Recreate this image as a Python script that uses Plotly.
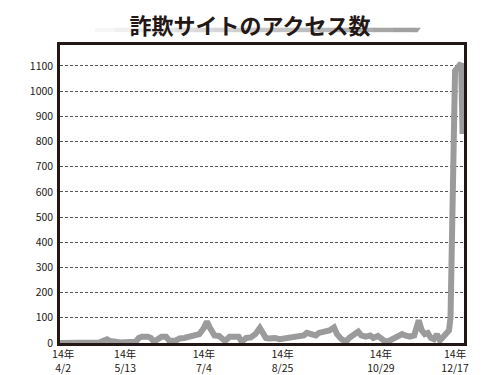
import plotly.graph_objects as go

# --- data ---
dates = [
    "2014-03-31", "2014-04-03", "2014-04-07", "2014-04-10", "2014-04-13", "2014-04-16",
    "2014-04-20", "2014-04-23", "2014-04-26", "2014-04-29", "2014-05-01", "2014-05-03",
    "2014-05-06", "2014-05-10", "2014-05-13", "2014-05-16", "2014-05-20", "2014-05-22",
    "2014-05-24", "2014-05-28", "2014-05-30", "2014-06-01", "2014-06-03", "2014-06-06",
    "2014-06-09", "2014-06-11", "2014-06-15", "2014-06-18", "2014-06-21", "2014-06-24",
    "2014-06-28", "2014-07-01", "2014-07-04", "2014-07-06", "2014-07-08", "2014-07-11",
    "2014-07-14", "2014-07-18", "2014-07-21", "2014-07-24", "2014-07-27", "2014-07-29",
    "2014-08-01", "2014-08-04", "2014-08-07", "2014-08-10", "2014-08-12", "2014-08-14",
    "2014-08-16", "2014-08-20", "2014-08-23", "2014-08-26", "2014-08-29", "2014-09-02",
    "2014-09-05", "2014-09-08", "2014-09-10", "2014-09-13", "2014-09-16", "2014-09-18",
    "2014-09-22", "2014-09-25", "2014-09-28", "2014-09-30", "2014-10-03", "2014-10-06",
    "2014-10-08", "2014-10-12", "2014-10-14", "2014-10-16", "2014-10-19", "2014-10-22",
    "2014-10-24", "2014-10-27", "2014-10-30", "2014-11-01", "2014-11-04", "2014-11-07",
    "2014-11-09", "2014-11-12", "2014-11-14", "2014-11-17", "2014-11-20", "2014-11-22",
    "2014-11-23", "2014-11-25", "2014-11-27", "2014-11-29", "2014-12-01", "2014-12-03",
    "2014-12-05", "2014-12-07", "2014-12-09", "2014-12-11", "2014-12-13", "2014-12-14",
    "2014-12-17", "2014-12-19", "2014-12-21", "2014-12-22",
]
access = [
    0, 0, 0, 0, 0, 0,
    0, 0, 2, 10, 15, 8,
    3, 2, 3, 2, 5, 20,
    25, 25, 20, 5, 15, 25,
    25, 10, 8, 18, 20, 25,
    28, 35, 60, 85, 60, 30,
    28, 8, 25, 28, 25, 5,
    20, 22, 35, 60, 40, 20,
    18, 20, 15, 18, 15, 20,
    22, 30, 40, 35, 30, 40,
    45, 50, 62, 35, 15, 5,
    20, 40, 45, 30, 25, 30,
    20, 28, 15, 5, 10, 20,
    25, 35, 30, 25, 30, 60,
    90, 50, 35, 40, 20, 15,
    35, 10, 25, 40, 50, 100,
    1080, 1095, 1110, 830,
]

tick_dates = ["2014-04-02", "2014-05-13", "2014-07-04", "2014-08-25", "2014-10-29", "2014-12-17"]
tick_labels = ["14年<br>4/2", "14年<br>5/13", "14年<br>7/4", "14年<br>8/25", "14年<br>10/29", "14年<br>12/17"]
y_ticks = list(range(0, 1101, 100))

title_text = "詐欺サイトのアクセス数"

fig = go.Figure()
fig.add_trace(go.Scatter(
    x=dates, y=access, mode="lines",
    line=dict(color="#9b9b9b", width=6),
    hoverinfo="skip", showlegend=False,
))

# title underline bar (gradient emulated by steps), slanted right end
n = 16
x0, x1 = 0.087, 0.875
for i in range(n):
    a = x0 + (x1 - x0) * i / n
    b = x0 + (x1 - x0) * (i + 1) / n
    g = int(246 - 85 * i / (n - 1))
    fig.add_shape(type="rect", xref="paper", yref="paper",
                  x0=a, x1=b + 0.002, y0=1.043, y1=1.058,
                  line=dict(width=0), fillcolor=f"rgb({g},{g},{g})", layer="below")
fig.add_shape(type="path", xref="paper", yref="paper",
              path="M 0.875 1.043 L 0.885 1.043 L 0.893 1.058 L 0.875 1.058 Z",
              line=dict(width=0), fillcolor="rgb(161,161,161)", layer="below")

fig.update_layout(
    width=492, height=367,
    margin=dict(l=52, r=36, t=37, b=32, autoexpand=False),
    paper_bgcolor="white", plot_bgcolor="white",
    font=dict(family="Noto Sans CJK JP, Noto Sans, sans-serif", size=10.5, color="#231815"),
    title=dict(text="<b>" + title_text + "</b>", x=0.492, xanchor="center",
               y=0.95, yanchor="middle", automargin=False,
               font=dict(family="Noto Sans CJK JP", size=22, color="#231815")),
)
fig.update_xaxes(
    type="date", range=["2014-03-30 22:00", "2014-12-22 22:00"],
    tickvals=tick_dates, ticktext=tick_labels, tickangle=0,
    tickfont=dict(size=10.5),
    showgrid=False, zeroline=False, automargin=False,
    showline=True, linecolor="#231815", linewidth=2.5, mirror=True,
    ticks="", ticklabelstandoff=0,
)
fig.update_yaxes(
    range=[0, 1183], tickvals=y_ticks,
    showgrid=True, gridcolor="#555555", gridwidth=0.8, griddash="3px,2px",
    zeroline=False, automargin=False,
    showline=True, linecolor="#231815", linewidth=2.5, mirror=True,
    ticks="", ticklabelstandoff=2,
)
fig.write_html("out.html")
